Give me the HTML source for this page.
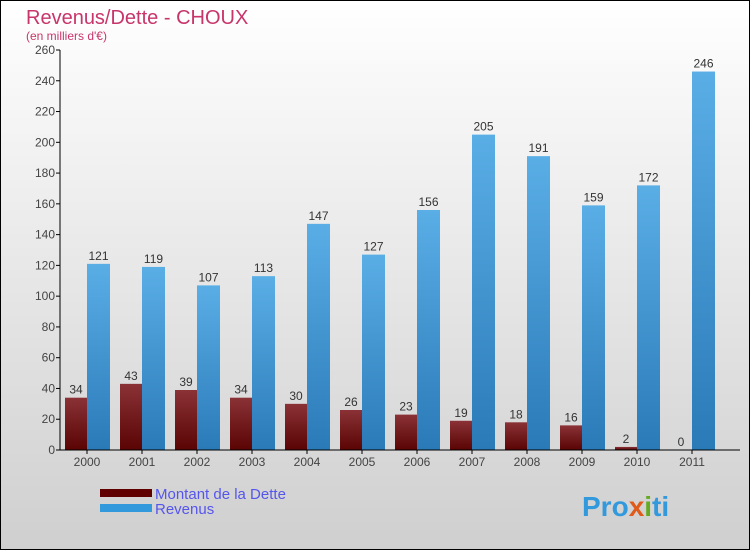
<!DOCTYPE html>
<html><head><meta charset="utf-8"><style>
body{margin:0}
svg{display:block;font-family:"Liberation Sans",sans-serif}
</style></head><body>
<svg id="c" width="750" height="550">
<defs>
<linearGradient id="bg" x1="0" y1="0" x2="0" y2="1"><stop offset="0" stop-color="#ffffff"/><stop offset="1" stop-color="#cfcfcf"/></linearGradient>
<linearGradient id="gd" x1="0" y1="0" x2="0" y2="1"><stop offset="0" stop-color="#8a3236"/><stop offset="1" stop-color="#5a0404"/></linearGradient>
<linearGradient id="gr" x1="0" y1="0" x2="0" y2="1"><stop offset="0" stop-color="#5aaee6"/><stop offset="1" stop-color="#2a7ab8"/></linearGradient>
</defs>
<rect x="0.5" y="0.5" width="749" height="549" fill="url(#bg)" stroke="#000"/>
<text x="26" y="24" font-size="20" fill="#c8356a">Revenus/Dette - CHOUX</text>
<text x="26" y="40" font-size="12" fill="#c8356a">(en milliers d'€)</text>
<g id="plot"></g>
<rect x="100" y="489" width="52" height="8" fill="#600000"/>
<text x="155" y="499" font-size="15" fill="#5555ee">Montant de la Dette</text>
<rect x="100" y="504" width="52" height="8" fill="#3399dd"/>
<text x="155" y="514" font-size="15" fill="#5555ee">Revenus</text>
<text x="582" y="516" font-size="28" font-weight="bold" fill="#3399dd">Pro<tspan fill="#e05a1a">x</tspan><tspan fill="#66aa22">i</tspan>ti</text>
</svg>
<script>
const years=["2000","2001","2002","2003","2004","2005","2006","2007","2008","2009","2010","2011"];
const dette=[34,43,39,34,30,26,23,19,18,16,2,0];
const revenus=[121,119,107,113,147,127,156,205,191,159,172,246];
const ticks=[0,20,40,60,80,100,120,140,160,180,200,220,240,260];
const NS="http://www.w3.org/2000/svg";
const g=document.getElementById('plot');
const y=v=>450-v*400/260;
const cx=i=>87+i*55;
function el(t,a,txt){const e=document.createElementNS(NS,t);for(const k in a)e.setAttribute(k,a[k]);if(txt!==undefined)e.textContent=txt;g.appendChild(e);return e;}
ticks.forEach(t=>{
 const l=el('line',{x1:56,x2:60,y1:y(t),y2:y(t),stroke:'#000'});
 
 
 const tx=el('text',{x:55,y:y(t)+4,'font-size':12,'text-anchor':'end',fill:'#444'},t);
 
 
});
years.forEach((yr,i)=>{
 const c=cx(i);
 const b1=el('rect',{x:c-22,y:y(dette[i]),width:22,height:450-y(dette[i]),fill:'url(#gd)'});
 
 
 const b2=el('rect',{x:c,y:y(revenus[i]),width:23,height:450-y(revenus[i]),fill:'url(#gr)'});
 
 
 const v1=el('text',{x:c-11,y:y(dette[i])-4,'font-size':12,'text-anchor':'middle',fill:'#333'},dette[i]);
 
 
 const v2=el('text',{x:c+11.5,y:y(revenus[i])-4,'font-size':12,'text-anchor':'middle',fill:'#333'},revenus[i]);
 
 
 const xt=el('line',{x1:c,x2:c,y1:450,y2:454,stroke:'#000'});
 
 
 const xl=el('text',{x:c,y:466,'font-size':12,'text-anchor':'middle',fill:'#444'},yr);
 
 
});
const ya=el('line',{x1:60,x2:60,y1:50,y2:450,stroke:'#000'});


const xa=el('line',{x1:60,x2:740,y1:450,y2:450,stroke:'#000'});


</script>
</body></html>
